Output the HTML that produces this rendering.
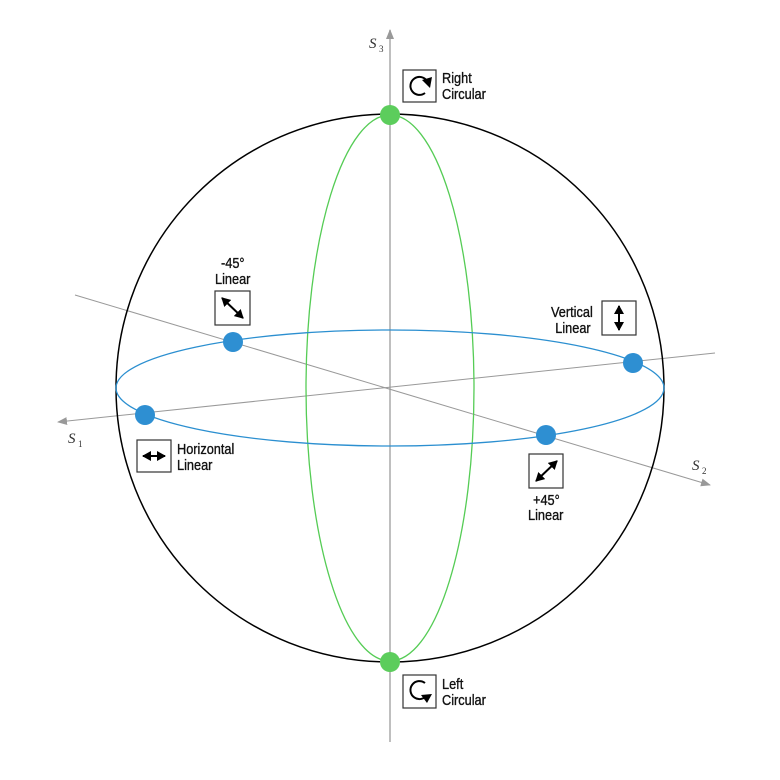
<!DOCTYPE html>
<html><head><style>body{margin:0;background:#fff}svg{display:block}
text{font-family:"Liberation Sans",sans-serif;font-size:15px;fill:#111;stroke:#111;stroke-width:0.35}
.l{font-family:"Liberation Serif",serif;font-style:italic;font-size:15px;fill:#333;stroke:none}
.s{font-family:"Liberation Serif",serif;font-size:9px;fill:#333;stroke:none}
</style></head><body>
<svg width="780" height="780" viewBox="0 0 780 780" xmlns="http://www.w3.org/2000/svg">
<defs>
<marker id="ga" markerWidth="10" markerHeight="8" refX="9" refY="4" orient="auto" markerUnits="userSpaceOnUse"><path d="M0,0 L10,4 L0,8 Z" fill="#999"/></marker>
<marker id="ba" markerWidth="9" markerHeight="10" refX="8" refY="5" orient="auto-start-reverse" markerUnits="userSpaceOnUse"><path d="M0,0 L9,5 L0,10 Z" fill="#000"/></marker>
</defs>
<line x1="390" y1="742" x2="390" y2="30" stroke="#aaa" stroke-width="1.5" marker-end="url(#ga)"/>
<line x1="715" y1="353" x2="58" y2="422" stroke="#999" stroke-width="1" marker-end="url(#ga)"/>
<line x1="75" y1="295" x2="710" y2="485" stroke="#999" stroke-width="1" marker-end="url(#ga)"/>
<circle cx="390" cy="388" r="274" fill="none" stroke="#000" stroke-width="1.5"/>
<ellipse cx="390" cy="388" rx="84" ry="273" fill="none" stroke="#5c5" stroke-width="1.3"/>
<ellipse cx="390" cy="388" rx="274" ry="58" fill="none" stroke="#2b8fd0" stroke-width="1.3"/>
<circle cx="390" cy="115" r="10" fill="#5ccd5c"/>
<circle cx="390" cy="662" r="10" fill="#5ccd5c"/>
<circle cx="233" cy="342" r="10" fill="#2e8fd2"/>
<circle cx="145" cy="415" r="10" fill="#2e8fd2"/>
<circle cx="633" cy="363" r="10" fill="#2e8fd2"/>
<circle cx="546" cy="435" r="10" fill="#2e8fd2"/>
<text class="l" x="369" y="48">S</text><text class="s" x="379" y="52">3</text>
<text class="l" x="68" y="443">S</text><text class="s" x="78" y="447">1</text>
<text class="l" x="692" y="470">S</text><text class="s" x="702" y="474">2</text>
<g fill="#fff" stroke="#333" stroke-width="1.2">
<rect x="403" y="70" width="33" height="32"/>
<rect x="137" y="440" width="34" height="32"/>
<rect x="215" y="291" width="35" height="34"/>
<rect x="602" y="301" width="34" height="34"/>
<rect x="529" y="454" width="34" height="34"/>
<rect x="403" y="675" width="33" height="33"/>
</g>
<g stroke="#000" stroke-width="2" fill="none">
<line x1="143" y1="456" x2="165" y2="456" marker-start="url(#ba)" marker-end="url(#ba)"/>
<line x1="222" y1="298" x2="243" y2="318" marker-start="url(#ba)" marker-end="url(#ba)"/>
<line x1="619" y1="306" x2="619" y2="330" marker-start="url(#ba)" marker-end="url(#ba)"/>
<line x1="536" y1="481" x2="557" y2="461" marker-start="url(#ba)" marker-end="url(#ba)"/>
<path d="M425,93 A9,9 0 1 1 427,81"/>
<path d="M425,683 A9,9 0 1 0 427,695"/>
</g>
<path d="M422,80 L432,77 L430,88 Z" fill="#000"/>
<path d="M421,695 L432,694 L427,703 Z" fill="#000"/>
<g transform="translate(442,83) scale(0.85,1)"><text>Right</text><text y="16">Circular</text></g>
<g transform="translate(442,689) scale(0.85,1)"><text>Left</text><text y="16">Circular</text></g>
<g transform="translate(177,454) scale(0.85,1)"><text>Horizontal</text><text y="16">Linear</text></g>
<g transform="translate(221,268) scale(0.85,1)"><text>-45°</text></g>
<g transform="translate(215,284) scale(0.85,1)"><text>Linear</text></g>
<g transform="translate(551,317) scale(0.85,1)"><text>Vertical</text><text x="5" y="16">Linear</text></g>
<g transform="translate(533,505) scale(0.85,1)"><text>+45°</text></g>
<g transform="translate(528,520) scale(0.85,1)"><text>Linear</text></g>
</svg>
</body></html>
